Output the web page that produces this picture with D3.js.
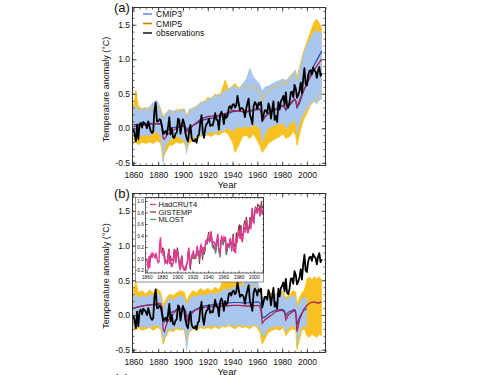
<!DOCTYPE html>
<html>
<head>
<meta charset="utf-8">
<script src="https://cdn.jsdelivr.net/npm/d3@7"></script>
<style>
  body { margin: 0; background: #fff; }
  text { font-family: "Liberation Sans", Arial, sans-serif; fill: #111; }
</style>
</head>
<body>
<svg id="vis" width="500" height="375"></svg>
<script>
// ---- data ----

// observations, annual 1860-2012
var obsYears = d3.range(1860, 2013);
var obs = [
  -0.01, -0.08, -0.19, 0.05, -0.16, 0.05, 0.08, 0.01, 0.09, 0.07,
  0.05, 0.00, 0.10, 0.03, -0.04, -0.07, -0.05, 0.26, 0.37, 0.10,
  0.10, 0.13, 0.12, 0.03, -0.08, -0.06, -0.04, -0.09, 0.02, 0.16,
  -0.09, 0.00, -0.13, -0.14, -0.08, -0.06, 0.14, 0.12, -0.08, 0.04,
  0.13, 0.07, -0.07, -0.15, -0.19, -0.05, 0.05, -0.14, -0.18, -0.19,
  -0.16, -0.21, -0.11, -0.09, 0.09, 0.19, -0.05, -0.14, 0.00, 0.06,
  0.08, 0.14, 0.03, 0.05, 0.04, 0.12, 0.22, 0.12, 0.12, -0.02,
  0.19, 0.24, 0.19, 0.06, 0.20, 0.15, 0.18, 0.30, 0.32, 0.28,
  0.34, 0.35, 0.30, 0.33, 0.47, 0.36, 0.26, 0.29, 0.29, 0.26,
  0.16, 0.28, 0.36, 0.43, 0.20, 0.14, 0.06, 0.32, 0.38, 0.35,
  0.28, 0.37, 0.34, 0.38, 0.11, 0.19, 0.26, 0.26, 0.22, 0.36,
  0.30, 0.14, 0.27, 0.39, 0.12, 0.18, 0.09, 0.38, 0.27, 0.39,
  0.42, 0.47, 0.34, 0.52, 0.32, 0.30, 0.38, 0.52, 0.53, 0.45,
  0.63, 0.58, 0.44, 0.48, 0.54, 0.66, 0.51, 0.72, 0.87, 0.64,
  0.62, 0.77, 0.83, 0.84, 0.78, 0.88, 0.84, 0.82, 0.73, 0.84,
  0.89, 0.76, 0.80
];

// inset datasets, annual 1880-2012
var insetYears = d3.range(1880, 2013);
var gistemp = [
  0.11, 0.19, 0.17, 0.11, -0.01, -0.06, -0.04, -0.09, 0.10, 0.17,
  -0.08, 0.05, 0.00, -0.04, -0.03, 0.05, 0.16, 0.16, 0.00, 0.10,
  0.19, 0.12, -0.01, -0.10, -0.20, 0.01, 0.05, -0.12, -0.16, -0.21,
  -0.16, -0.17, -0.09, -0.07, 0.12, 0.13, -0.09, -0.19, -0.03, 0.00,
  0.00, 0.08, -0.01, 0.01, 0.00, 0.05, 0.17, 0.05, 0.07, -0.09,
  0.11, 0.17, 0.11, -0.02, 0.15, 0.07, 0.12, 0.24, 0.25, 0.26,
  0.40, 0.46, 0.34, 0.36, 0.47, 0.36, 0.20, 0.24, 0.16, 0.16,
  0.10, 0.20, 0.28, 0.35, 0.14, 0.13, 0.08, 0.32, 0.33, 0.30,
  0.24, 0.33, 0.30, 0.32, 0.07, 0.16, 0.21, 0.25, 0.19, 0.32,
  0.30, 0.19, 0.28, 0.43, 0.20, 0.26, 0.17, 0.45, 0.34, 0.43,
  0.53, 0.59, 0.41, 0.58, 0.43, 0.39, 0.45, 0.59, 0.66, 0.54,
  0.72, 0.67, 0.49, 0.50, 0.58, 0.72, 0.60, 0.73, 0.88, 0.65,
  0.66, 0.81, 0.90, 0.89, 0.80, 0.95, 0.91, 0.93, 0.81, 0.92,
  0.99, 0.88, 0.91
];
var mlost = [
  0.05, 0.08, 0.07, 0.00, -0.07, -0.06, -0.05, -0.10, -0.02, 0.12,
  -0.07, -0.02, -0.10, -0.13, -0.10, -0.07, 0.09, 0.10, -0.06, 0.03,
  0.10, 0.06, -0.04, -0.11, -0.16, -0.06, 0.02, -0.12, -0.16, -0.19,
  -0.17, -0.18, -0.10, -0.08, 0.08, 0.13, -0.04, -0.13, -0.02, 0.02,
  0.04, 0.09, 0.02, 0.03, 0.02, 0.08, 0.17, 0.08, 0.09, -0.04,
  0.14, 0.18, 0.15, 0.03, 0.15, 0.11, 0.14, 0.25, 0.27, 0.25,
  0.32, 0.34, 0.28, 0.30, 0.41, 0.31, 0.18, 0.22, 0.21, 0.18,
  0.08, 0.20, 0.27, 0.33, 0.12, 0.07, 0.02, 0.27, 0.31, 0.28,
  0.23, 0.30, 0.29, 0.31, 0.06, 0.12, 0.20, 0.22, 0.18, 0.33,
  0.28, 0.12, 0.25, 0.39, 0.13, 0.19, 0.10, 0.38, 0.29, 0.38,
  0.43, 0.46, 0.36, 0.50, 0.33, 0.31, 0.38, 0.53, 0.55, 0.46,
  0.63, 0.59, 0.45, 0.48, 0.54, 0.66, 0.55, 0.72, 0.86, 0.65,
  0.63, 0.78, 0.82, 0.84, 0.79, 0.89, 0.85, 0.85, 0.76, 0.86,
  0.91, 0.79, 0.83
];

// multi-model means
var meanYears = [1860, 1865, 1870, 1875, 1880, 1882, 1883, 1884, 1885, 1887,
  1890, 1895, 1900, 1902, 1903, 1905, 1910, 1915, 1920, 1925,
  1930, 1935, 1940, 1945, 1950, 1955, 1960, 1962, 1963, 1964,
  1966, 1970, 1975, 1980, 1982, 1983, 1985, 1990, 1991, 1992,
  1994, 1997, 2000, 2003, 2006, 2009, 2012];
var cmip5MeanA = [0.02, 0.04, 0.05, 0.06, 0.07, 0.07, 0.03, -0.14, -0.16, -0.10,
  -0.05, 0.00, 0.03, 0.01, -0.05, -0.02, 0.07, 0.14, 0.17, 0.18,
  0.19, 0.22, 0.26, 0.25, 0.24, 0.26, 0.29, 0.28, 0.22, 0.10,
  0.15, 0.24, 0.28, 0.33, 0.33, 0.27, 0.32, 0.43, 0.40, 0.31,
  0.40, 0.55, 0.64, 0.75, 0.85, 0.93, 1.00];
var cmip3MeanA = [0.05, 0.06, 0.07, 0.07, 0.06, 0.06, 0.05, -0.05, -0.08, -0.04,
  0.00, 0.02, 0.04, 0.03, -0.02, 0.01, 0.06, 0.11, 0.14, 0.15,
  0.17, 0.20, 0.24, 0.25, 0.23, 0.25, 0.27, 0.27, 0.25, 0.15,
  0.17, 0.22, 0.27, 0.32, 0.30, 0.26, 0.31, 0.42, 0.40, 0.30,
  0.36, 0.52, 0.65, 0.80, 0.92, 1.02, 1.12];
var cmip5MeanB = [0.10, 0.12, 0.14, 0.15, 0.17, 0.16, 0.10, -0.20, -0.24, -0.12,
  -0.02, 0.07, 0.10, 0.06, -0.10, -0.02, 0.07, 0.10, 0.12, 0.12,
  0.13, 0.13, 0.14, 0.14, 0.13, 0.13, 0.14, 0.13, 0.05, -0.12,
  -0.07, -0.02, 0.05, 0.07, 0.04, -0.07, 0.00, 0.07, 0.02, -0.24,
  -0.07, 0.07, 0.14, 0.18, 0.19, 0.17, 0.19];
var cmip3MeanB = [0.10, 0.12, 0.14, 0.15, 0.15, 0.14, 0.12, -0.05, -0.10, -0.04,
  0.03, 0.08, 0.10, 0.07, -0.04, 0.02, 0.08, 0.12, 0.14, 0.15,
  0.16, 0.17, 0.18, 0.18, 0.17, 0.18, 0.19, 0.18, 0.12, -0.04,
  -0.03, 0.03, 0.07, 0.08, 0.06, -0.01, 0.04, 0.08, 0.05, -0.14,
  -0.03, 0.06, 0.09];

// model ranges
var envYears = [1860, 1862, 1864, 1867, 1870, 1873, 1876, 1879, 1882, 1884,
  1886, 1889, 1892, 1895, 1898, 1901, 1903, 1905, 1908, 1911,
  1914, 1917, 1920, 1923, 1926, 1929, 1932, 1934, 1937, 1940,
  1942, 1945, 1948, 1951, 1954, 1957, 1960, 1962, 1964, 1966,
  1969, 1972, 1975, 1978, 1981, 1983, 1986, 1989, 1991, 1992,
  1994, 1996, 1998, 2000, 2002, 2004, 2006, 2008, 2010, 2012];
var cmip5HiA = [0.30, 0.55, 0.32, 0.28, 0.30, 0.26, 0.30, 0.33, 0.28, 0.15,
  0.20, 0.26, 0.22, 0.25, 0.28, 0.26, 0.18, 0.24, 0.28, 0.30,
  0.35, 0.38, 0.45, 0.42, 0.50, 0.45, 0.58, 0.70, 0.55, 0.60,
  0.65, 0.58, 0.62, 0.60, 0.55, 0.62, 0.55, 0.50, 0.40, 0.48,
  0.55, 0.60, 0.58, 0.65, 0.68, 0.62, 0.72, 0.80, 0.82, 0.70,
  0.85, 1.00, 1.15, 1.25, 1.35, 1.45, 1.55, 1.58, 1.52, 1.45];
var cmip5LoA = [-0.22, -0.20, -0.24, -0.20, -0.22, -0.20, -0.22, -0.18, -0.22, -0.42,
  -0.35, -0.25, -0.24, -0.20, -0.22, -0.20, -0.30, -0.22, -0.18, -0.15,
  -0.12, -0.10, -0.10, -0.12, -0.08, -0.10, -0.06, -0.05, -0.10, -0.20,
  -0.35, -0.25, -0.12, -0.10, -0.15, -0.08, -0.18, -0.25, -0.35, -0.30,
  -0.22, -0.18, -0.15, -0.12, -0.08, -0.15, -0.12, -0.05, -0.10, -0.25,
  -0.10, 0.05, 0.15, 0.22, 0.30, 0.38, 0.42, 0.40, 0.48, 0.50];
var cmip3HiA = [0.28, 0.35, 0.25, 0.30, 0.28, 0.32, 0.38, 0.42, 0.30, 0.18,
  0.22, 0.28, 0.25, 0.28, 0.25, 0.30, 0.20, 0.28, 0.30, 0.33,
  0.38, 0.40, 0.42, 0.45, 0.48, 0.50, 0.52, 0.55, 0.58, 0.62,
  0.60, 0.58, 0.65, 0.72, 0.88, 0.75, 0.68, 0.65, 0.55, 0.60,
  0.62, 0.65, 0.68, 0.70, 0.72, 0.70, 0.75, 0.82, 0.85, 0.75,
  0.90, 1.05, 1.15, 1.22, 1.28, 1.35, 1.40, 1.42, 1.40, 1.38];
var cmip3LoA = [-0.12, -0.15, -0.10, -0.12, -0.10, -0.12, -0.08, -0.05, -0.12, -0.58,
  -0.25, -0.18, -0.15, -0.12, -0.15, -0.18, -0.40, -0.15, -0.12, -0.15,
  -0.10, -0.12, -0.08, -0.05, -0.08, -0.03, -0.05, -0.02, 0.00, -0.05,
  -0.02, 0.02, 0.00, 0.03, 0.00, 0.05, 0.02, 0.00, -0.22, -0.10,
  0.00, 0.02, 0.05, 0.05, 0.08, -0.02, 0.05, 0.10, 0.08, -0.12,
  0.05, 0.15, 0.22, 0.28, 0.32, 0.35, 0.38, 0.35, 0.40, 0.42];
var cmip5HiB = [0.35, 0.48, 0.32, 0.35, 0.30, 0.36, 0.32, 0.38, 0.33, 0.15,
  0.22, 0.30, 0.28, 0.32, 0.35, 0.33, 0.20, 0.28, 0.35, 0.32,
  0.38, 0.35, 0.38, 0.35, 0.40, 0.36, 0.48, 0.55, 0.45, 0.55,
  0.60, 0.52, 0.45, 0.42, 0.40, 0.42, 0.40, 0.35, 0.20, 0.25,
  0.30, 0.33, 0.30, 0.35, 0.33, 0.25, 0.30, 0.35, 0.33, 0.15,
  0.25, 0.32, 0.36, 0.52, 0.55, 0.50, 0.55, 0.52, 0.55, 0.50];
var cmip5LoB = [-0.20, -0.22, -0.18, -0.22, -0.20, -0.18, -0.22, -0.18, -0.20, -0.42,
  -0.32, -0.22, -0.24, -0.20, -0.22, -0.20, -0.36, -0.25, -0.20, -0.22,
  -0.18, -0.20, -0.18, -0.20, -0.17, -0.20, -0.16, -0.18, -0.15, -0.18,
  -0.20, -0.16, -0.18, -0.17, -0.20, -0.15, -0.18, -0.25, -0.42, -0.35,
  -0.25, -0.22, -0.20, -0.22, -0.18, -0.30, -0.22, -0.20, -0.22, -0.50,
  -0.35, -0.22, -0.20, -0.30, -0.32, -0.28, -0.30, -0.32, -0.28, -0.30];
var cmip3HiB = [0.28, 0.30, 0.25, 0.28, 0.26, 0.30, 0.28, 0.32, 0.28, 0.10,
  0.18, 0.25, 0.22, 0.26, 0.28, 0.26, 0.15, 0.22, 0.28, 0.26,
  0.30, 0.28, 0.30, 0.32, 0.30, 0.33, 0.35, 0.38, 0.36, 0.40,
  0.42, 0.38, 0.45, 0.52, 0.48, 0.55, 0.50, 0.40, 0.25, 0.28,
  0.26, 0.28, 0.30, 0.28, 0.30, 0.22, 0.26, 0.28, 0.26, 0.10,
  0.18, 0.24, 0.26, 0.25];
var cmip3LoB = [-0.18, -0.20, -0.16, -0.18, -0.17, -0.19, -0.16, -0.15, -0.18, -0.40,
  -0.30, -0.20, -0.22, -0.18, -0.20, -0.22, -0.55, -0.25, -0.18, -0.20,
  -0.16, -0.18, -0.16, -0.17, -0.15, -0.18, -0.15, -0.16, -0.14, -0.16,
  -0.17, -0.14, -0.16, -0.15, -0.17, -0.14, -0.16, -0.20, -0.32, -0.28,
  -0.20, -0.18, -0.16, -0.18, -0.16, -0.25, -0.18, -0.16, -0.18, -0.46,
  -0.28, -0.18, -0.16, -0.18];

// ticks and labels
var xTicks = [1860, 1880, 1900, 1920, 1940, 1960, 1980, 2000];
var yTicks = [-0.5, 0.0, 0.5, 1.0, 1.5];
var insetYTicks = [-0.2, 0.0, 0.2, 0.4, 0.6, 0.8, 1.0];
var legendA = ["CMIP3", "CMIP5", "observations"];
var legendInset = ["HadCRUT4", "GISTEMP", "MLOST"];

// colours
var YELLOW = "#f7c122", LBLUE = "#a9c7ee", BLUE = "#2a46a6", RED = "#ad2450";
var PINK = "#e2388f", MAROON = "#8c2238", GREEN = "#3b9d6e";

// ---- drawing ----
var svg = d3.select("#vis");
svg.append("rect").attr("width", 500).attr("height", 375).attr("fill", "#fff");

var x = d3.scaleLinear().domain([1859.3, 2015]).range([132.5, 325.5]);
var minorX = d3.range(1860, 2016, 5);
var minorY = d3.range(-5, 18).map(function(d) { return d / 10; });

function pts(xs, ys) { return ys.map(function(v, i) { return [xs[i], v]; }); }
function env(xs, lo, hi) { return lo.map(function(v, i) { return {x: xs[i], lo: v, hi: hi[i]}; }); }

function styleAxis(g) {
  g.select(".domain").remove();
  g.selectAll(".tick line").attr("stroke", "#222").attr("stroke-width", 0.7);
  g.selectAll("text").attr("font-size", 8.5).attr("font-family", "Liberation Sans, Arial, sans-serif").attr("fill", "#111");
}

function drawPanel(top, bottom, d) {
  var y = d3.scaleLinear().domain([-0.54, 1.75]).range([bottom, top]);
  var x0 = x.range()[0], x1 = x.range()[1];
  var g = svg.append("g");

  svg.append("clipPath").attr("id", "clip" + d.id).append("rect")
    .attr("x", x0).attr("y", top).attr("width", x1 - x0).attr("height", bottom - top);
  var plot = g.append("g").attr("clip-path", "url(#clip" + d.id + ")");

  var area = d3.area().x(function(p) { return x(p.x); })
    .y0(function(p) { return y(p.lo); }).y1(function(p) { return y(p.hi); });
  var hiLine = d3.line().x(function(p) { return x(p.x); }).y(function(p) { return y(p.hi); });
  var loLine = d3.line().x(function(p) { return x(p.x); }).y(function(p) { return y(p.lo); });
  var line = d3.line().x(function(p) { return x(p[0]); }).y(function(p) { return y(p[1]); });

  plot.append("path").datum(d.env5).attr("d", area).attr("fill", YELLOW);
  plot.append("path").datum(d.env3).attr("d", area).attr("fill", LBLUE);
  plot.append("path").datum(d.env5).attr("d", hiLine).attr("fill", "none").attr("stroke", YELLOW).attr("stroke-width", 0.8);
  plot.append("path").datum(d.env5).attr("d", loLine).attr("fill", "none").attr("stroke", YELLOW).attr("stroke-width", 0.8);
  plot.append("path").datum(d.mean3).attr("d", line).attr("fill", "none").attr("stroke", BLUE).attr("stroke-width", 1.2);
  plot.append("path").datum(d.mean5).attr("d", line).attr("fill", "none").attr("stroke", RED).attr("stroke-width", 1.3);
  plot.append("path").datum(pts(obsYears, obs)).attr("d", line).attr("fill", "none")
    .attr("stroke", "#000").attr("stroke-width", 1.8).attr("stroke-linejoin", "round");

  // axes, ticks pointing inward on all four sides
  g.append("g").attr("transform", "translate(0," + bottom + ")")
    .call(d3.axisBottom(x).tickValues(xTicks).tickSize(-4).tickPadding(6).tickFormat(d3.format("d"))).call(styleAxis);
  g.append("g").attr("transform", "translate(0," + bottom + ")")
    .call(d3.axisBottom(x).tickValues(minorX).tickSize(-2).tickFormat("")).call(styleAxis);
  g.append("g").attr("transform", "translate(0," + top + ")")
    .call(d3.axisTop(x).tickValues(xTicks).tickSize(-4).tickFormat("")).call(styleAxis);
  g.append("g").attr("transform", "translate(0," + top + ")")
    .call(d3.axisTop(x).tickValues(minorX).tickSize(-2).tickFormat("")).call(styleAxis);
  g.append("g").attr("transform", "translate(" + x0 + ",0)")
    .call(d3.axisLeft(y).tickValues(yTicks).tickSize(-4).tickPadding(2.5)
      .tickFormat(function(v) { return v.toFixed(1); })).call(styleAxis);
  g.append("g").attr("transform", "translate(" + x0 + ",0)")
    .call(d3.axisLeft(y).tickValues(minorY).tickSize(-2).tickFormat("")).call(styleAxis);
  g.append("g").attr("transform", "translate(" + x1 + ",0)")
    .call(d3.axisRight(y).tickValues(yTicks).tickSize(-4).tickFormat("")).call(styleAxis);
  g.append("g").attr("transform", "translate(" + x1 + ",0)")
    .call(d3.axisRight(y).tickValues(minorY).tickSize(-2).tickFormat("")).call(styleAxis);

  g.append("rect").attr("x", x0).attr("y", top).attr("width", x1 - x0).attr("height", bottom - top)
    .attr("fill", "none").attr("stroke", "#222").attr("stroke-width", 0.9);

  g.append("text").attr("x", (x0 + x1) / 2 - 2).attr("y", bottom + 22).attr("text-anchor", "middle")
    .attr("font-size", 9.5).text("Year");
  g.append("text").attr("transform", "translate(109," + ((top + bottom) / 2 + 3) + ") rotate(-90)")
    .attr("text-anchor", "middle").attr("font-size", 9).text("Temperature anomaly (°C)");
  g.append("text").attr("x", 114).attr("y", top + d.letterDy).attr("font-size", 13).text(d.letter);
  return y;
}

drawPanel(7.5, 165.5, {
  id: "a", letter: "(a)", letterDy: 4,
  env5: env(envYears, cmip5LoA, cmip5HiA), env3: env(envYears, cmip3LoA, cmip3HiA),
  mean3: pts(meanYears, cmip3MeanA), mean5: pts(meanYears, cmip5MeanA)
});

// legend of panel (a)
var legA = svg.append("g");
var legCols = [[LBLUE, BLUE], [YELLOW, RED], ["#000", "#000"]];
legendA.forEach(function(name, i) {
  var yy = 14 + i * 9.5;
  legA.append("line").attr("x1", 143).attr("x2", 152).attr("y1", yy).attr("y2", yy)
    .attr("stroke", legCols[i][0]).attr("stroke-width", i == 2 ? 1.4 : 2.2);
  if (i < 2) legA.append("line").attr("x1", 143).attr("x2", 152).attr("y1", yy).attr("y2", yy)
    .attr("stroke", legCols[i][1]).attr("stroke-width", 0.5);
  legA.append("text").attr("x", 156).attr("y", yy + 3).attr("font-size", 8.5).text(name);
});

drawPanel(193.5, 352.5, {
  id: "b", letter: "(b)", letterDy: 4.5,
  env5: env(envYears, cmip5LoB, cmip5HiB), env3: env(envYears, cmip3LoB, cmip3HiB),
  mean3: pts(meanYears, cmip3MeanB), mean5: pts(meanYears, cmip5MeanB)
});

// ---- inset in panel (b) ----
var ix = d3.scaleLinear().domain([1858.4, 2012.6]).range([145.5, 263.5]);
var iy = d3.scaleLinear().domain([-0.25, 1.06]).range([273, 197.5]);
var inset = svg.append("g");
inset.append("rect").attr("x", 135.5).attr("y", 197.5).attr("width", 128).attr("height", 84.5)
  .attr("fill", "#fff").attr("stroke", "#444").attr("stroke-width", 0.6);

var iline = d3.line().x(function(p) { return ix(p[0]); }).y(function(p) { return iy(p[1]); });
inset.append("path").datum(pts(insetYears, gistemp)).attr("d", iline).attr("fill", "none").attr("stroke", MAROON).attr("stroke-width", 1);
inset.append("path").datum(pts(insetYears, mlost)).attr("d", iline).attr("fill", "none").attr("stroke", GREEN).attr("stroke-width", 1);
// HadCRUT4 is the same series as the black observations line
inset.append("path").datum(pts(obsYears, obs)).attr("d", iline).attr("fill", "none").attr("stroke", PINK).attr("stroke-width", 1.4);

function styleInset(g) {
  g.select(".domain").remove();
  g.selectAll(".tick line").attr("stroke", "#222").attr("stroke-width", 0.5);
  g.selectAll("text").attr("font-size", 4.8).attr("font-family", "Liberation Sans, Arial, sans-serif").attr("fill", "#111");
}
var iMinorX = d3.range(1860, 2011, 5);
var iMinorY = d3.range(-2, 11).map(function(d) { return d / 10; });
inset.append("g").attr("transform", "translate(0,273)")
  .call(d3.axisBottom(ix).tickValues(xTicks).tickSize(-2.5).tickPadding(2.5).tickFormat(d3.format("d"))).call(styleInset);
inset.append("g").attr("transform", "translate(0,273)")
  .call(d3.axisBottom(ix).tickValues(iMinorX).tickSize(-1.3).tickFormat("")).call(styleInset);
inset.append("g").attr("transform", "translate(0,197.5)")
  .call(d3.axisTop(ix).tickValues(iMinorX).tickSize(-1.5).tickFormat("")).call(styleInset);
inset.append("g").attr("transform", "translate(145.5,0)")
  .call(d3.axisLeft(iy).tickValues(insetYTicks).tickSize(-2.5).tickPadding(1.5)
    .tickFormat(function(v) { return v.toFixed(1); })).call(styleInset);
inset.append("g").attr("transform", "translate(145.5,0)")
  .call(d3.axisLeft(iy).tickValues(iMinorY).tickSize(-1.3).tickFormat("")).call(styleInset);
inset.append("g").attr("transform", "translate(263.5,0)")
  .call(d3.axisRight(iy).tickValues(iMinorY).tickSize(-1.5).tickFormat("")).call(styleInset);
inset.append("rect").attr("x", 145.5).attr("y", 197.5).attr("width", 118).attr("height", 75.5)
  .attr("fill", "none").attr("stroke", "#222").attr("stroke-width", 0.7);

var legICols = [PINK, MAROON, GREEN];
legendInset.forEach(function(name, i) {
  var yy = 204.5 + i * 7.5;
  inset.append("line").attr("x1", 150).attr("x2", 156).attr("y1", yy).attr("y2", yy)
    .attr("stroke", legICols[i]).attr("stroke-width", 1.2);
  inset.append("text").attr("x", 158.5).attr("y", yy + 2.6).attr("font-size", 7.5).text(name);
});

// start of panel (c), cut off at the bottom edge as in the figure
svg.append("text").attr("x", 114).attr("y", 383).attr("font-size", 13).text("(c)");
</script>
</body>
</html>
